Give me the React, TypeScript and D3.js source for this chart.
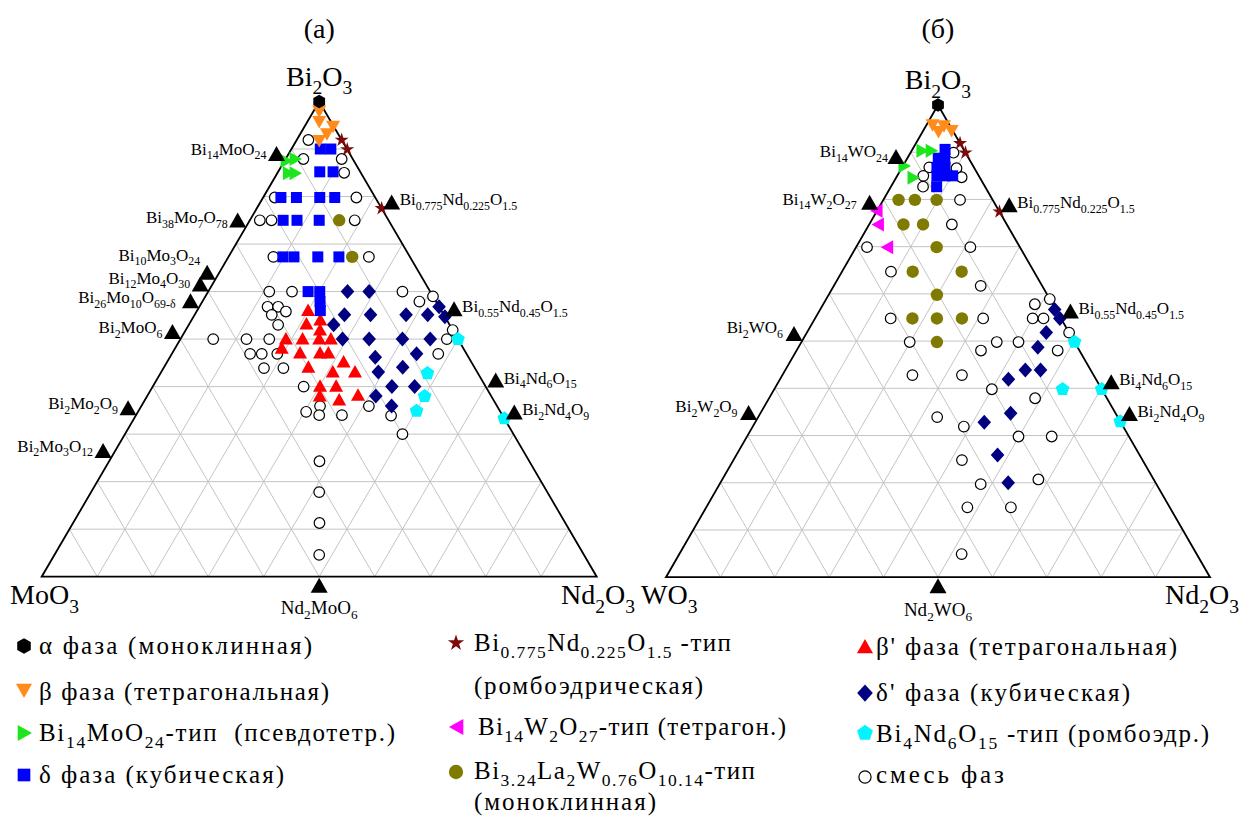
import React from "react";
import * as d3 from "d3";

// Compositions are [Bi2O3 mol.%, Nd2O3 mol.%]; the third oxide is the remainder.
type Comp = [number, number];

// ---------------- Bi2O3 – MoO3 – Nd2O3 ----------------
const moAlpha: Comp[] = [[100, 0]];
const moBeta: Comp[] = [[98, 1], [95.8, 2.1], [94.8, 5.1], [93.2, 4.8], [91.8, 4.1]];
const moRhombo: Comp[] = [[91.9, 8.1], [89.9, 10.1], [77.5, 22.5]];
const moBi14: Comp[] = [[87.5, 0.3], [87.9, 1.7], [84.9, 2.0], [84.9, 3.2]];
const moDelta: Comp[] = [
  [90, 5.2], [90, 7.1], [85.2, 7.5], [85.2, 9.9],
  [79.8, 3.2], [79.8, 6.0], [79.8, 10.2], [79.8, 12.9],
  [75, 6.0], [75, 8.5], [75, 12.5],
  [67.3, 9.8], [67.3, 11.8], [67.3, 16.1], [67.3, 19.9],
  [60, 18.0], [60, 20.1], [57.9, 21.2], [56, 22.2],
];
const moMonoclinic: Comp[] = [[75, 16.1], [67.3, 22.3]];
const moBetaPrime: Comp[] = [
  [56, 20.0], [53.2, 21.1], [54, 23.2], [51.9, 24.2],
  [50, 19.0], [50, 22.0], [50, 25.0], [50, 27.1], [48.1, 19.2],
  [47.1, 23.0], [47.1, 26.6], [47.1, 28.1],
  [44.1, 26.0], [43.1, 30.9], [45.2, 31.8], [43.1, 34.9],
  [40.1, 30.1], [40.1, 33.0], [38, 31.1], [37.2, 35.0], [38.2, 37.9],
];
const moDeltaPrime: Comp[] = [
  [60, 25.1], [60, 29.0], [56.8, 43.2], [54.7, 45.3],
  [53, 26.1], [55.1, 27.0], [55.1, 31.7], [55.1, 38.1], [55.1, 42.0],
  [50, 29.2], [50, 34.0], [50, 40.0], [50, 45.0],
  [46.2, 37.0], [46.9, 44.1],
  [43.1, 39.1], [44.1, 43.0],
  [40, 43.1], [40, 47.2], [38, 41.2], [35.9, 45.1],
];
const moBi4Nd6: Comp[] = [[50, 50], [42.8, 48.1], [38, 50], [34.9, 50.1], [33.3, 66.7]];
const moMixed: Comp[] = [
  [91.9, 2.1], [87.9, 3.2], [87.9, 10.1], [85, 12.0],
  [79.8, 2.1], [79.8, 16.8],
  [75, 1.8], [75, 3.9], [75, 18.9],
  [67.3, 8.1], [67.3, 25.3],
  [60, 11.0], [60, 15.1], [60, 35.0], [59, 41.0], [57.9, 39.1],
  [56.8, 12.3], [56.8, 14.2], [55.8, 16.1], [55.1, 13.9], [53, 16.1],
  [50, 5.9], [50, 11.9], [50, 16.0], [50, 48.0], [51.9, 48.1],
  [46.9, 14.1], [46.9, 16.2], [46.9, 19.0], [46.9, 48.0],
  [43.9, 18.1], [43.9, 21.6],
  [40, 27.2],
  [35.9, 32.2], [34, 33.0], [34.7, 30.3], [34, 37.1], [35.9, 41.0], [33.9, 46.0], [30, 50.0],
  [24.3, 37.9], [17.8, 41.1], [11.3, 44.4], [4.6, 47.7],
];

// ---------------- Bi2O3 – WO3 – Nd2O3 ----------------
const wAlpha: Comp[] = [[100, 0]];
const wBeta: Comp[] = [[95.8, 1.1], [94.4, 2.9], [95.6, 3.3], [94.6, 5.2]];
const wRhombo: Comp[] = [[91.9, 8.1], [89.9, 10.1], [77.4, 22.6]];
const wBi14: Comp[] = [[90.3, 1.9], [90.3, 3.6], [87.1, 0.2], [84.6, 3.1]];
const wDelta: Comp[] = [
  [90.6, 6.0], [88.7, 5.7], [88.7, 6.9], [86.8, 6.4], [86.8, 7.9],
  [85, 7.3], [85, 8.8], [85, 10.2], [82.7, 8.4],
];
const wTetragon: Comp[] = [[77.6, 0], [74.7, 1.7], [69.9, 5.8]];
const wMonoclinic: Comp[] = [
  [79.9, 2.8], [79.9, 5.8], [79.9, 9.8], [74.7, 6.3], [74.7, 9.9], [69.9, 14.8],
  [64.7, 13.0], [64.7, 22.0], [59.8, 19.9], [54.8, 17.9], [54.8, 22.4], [54.8, 27.0], [49.8, 24.9],
];
const wDeltaPrime: Comp[] = [
  [56.7, 43.1], [54.8, 45.0], [51.8, 44.0], [48.7, 44.0], [43.9, 44.1], [43.9, 46.9],
  [41.9, 42.0], [34.7, 46.0], [32.8, 42.1], [25.9, 48.0], [20, 52.9],
];
const wBi4Nd6: Comp[] = [[49.8, 50.2], [39.8, 53.0], [39.8, 60.2], [33, 67]];
const wMixed: Comp[] = [
  [89.9, 7.9], [86.8, 5.0], [85, 4.8], [82.7, 5.9], [86.6, 10.1], [84.7, 12.0],
  [79.9, 14.1], [74.7, 15.2], [69.9, 2.0], [69.9, 21.0], [64.7, 9.0], [61.7, 27.0],
  [57.8, 38.9], [58.9, 41.1], [54.8, 13.9], [54.8, 30.9], [54.8, 40.0], [54.8, 42.0],
  [51.8, 48.2], [49.8, 19.9], [49.8, 35.9], [49.8, 39.9], [48, 33.9], [48, 48.0],
  [42.8, 23.9], [42.8, 33.0], [39.8, 40.0], [37.9, 48.9], [33.9, 32.9], [31.9, 38.8],
  [29.8, 49.9], [29.8, 56.0], [24.8, 42.0], [19.7, 48.0], [20.7, 58.1], [14.8, 48.0],
  [14.8, 56.0], [4.9, 51.9],
];

// Known compounds on the binary edges (Bi2O3 mol.% along the edge)
const moSideCompounds = [
  { name: "Bi{14}MoO{24}", bi: 87.5 },
  { name: "Bi{38}Mo{7}O{78}", bi: 73.5 },
  { name: "Bi{10}Mo{3}O{24}", bi: 62.5 },
  { name: "Bi{12}Mo{4}O{30}", bi: 60 },
  { name: "Bi{26}Mo{10}O{69-δ}", bi: 56.5 },
  { name: "Bi{2}MoO{6}", bi: 50 },
  { name: "Bi{2}Mo{2}O{9}", bi: 34 },
  { name: "Bi{2}Mo{3}O{12}", bi: 25 },
];
const wSideCompounds = [
  { name: "Bi{14}WO{24}", bi: 87.5 },
  { name: "Bi{14}W{2}O{27}", bi: 77.8 },
  { name: "Bi{2}WO{6}", bi: 50 },
  { name: "Bi{2}W{2}O{9}", bi: 33.3 },
];
const ndCompounds = [
  { name: "Bi{0.775}Nd{0.225}O{1.5}", bi: 77.5 },
  { name: "Bi{0.55}Nd{0.45}O{1.5}", bi: 55 },
  { name: "Bi{4}Nd{6}O{15}", bi: 40 },
  { name: "Bi{2}Nd{4}O{9}", bi: 33.3 },
];

// Label nudges (px) for crowded edge labels
const labelNudge: Record<string, [number, number]> = {
  "Bi{10}Mo{3}O{24}": [3, -13],
  "Bi{12}Mo{4}O{30}": [0, -2],
  "Bi{26}Mo{10}O{69-δ}": [-5, 1],
  "Bi{38}Mo{7}O{78}": [0, 2],
  "Bi{14}WO{24}": [2, -1],
  "Bi{14}W{2}O{27}": [-3, 1],
  "Bi{2}WO{6}": [-1, -2],
  "Bi{2}W{2}O{9}": [-1, -2],
};

const FONT = "'Liberation Serif', 'Times New Roman', Times, serif";

type Shape = "hexagon" | "triDown" | "triRight" | "square" | "star" | "triLeft" | "dot" | "triUp" | "diamond" | "pentagon" | "circle";
const PHASE_STYLE: Record<string, { fill: string; stroke?: string; shape: Shape }> = {
  alpha: { fill: "#000000", shape: "hexagon" },
  beta: { fill: "#ff8c1a", shape: "triDown" },
  bi14: { fill: "#1ee61e", shape: "triRight" },
  delta: { fill: "#0000ff", shape: "square" },
  rhombo: { fill: "#7d0a0a", shape: "star" },
  tetragon: { fill: "#ff00ff", shape: "triLeft" },
  mono: { fill: "#7f7a00", shape: "dot" },
  betaP: { fill: "#ff0000", shape: "triUp" },
  deltaP: { fill: "#000080", shape: "diamond" },
  bi4nd6: { fill: "#00f5ff", shape: "pentagon" },
  mixed: { fill: "#ffffff", stroke: "#000000", shape: "circle" },
};

const legendItems = [
  { phase: "alpha", lines: ["α фаза (моноклинная)"] },
  { phase: "beta", lines: ["β фаза (тетрагональная)"] },
  { phase: "bi14", lines: ["Bi{14}MoO{24}-тип  (псевдотетр.)"] },
  { phase: "delta", lines: ["δ фаза (кубическая)"] },
  { phase: "rhombo", lines: ["Bi{0.775}Nd{0.225}O{1.5} -тип", "(ромбоэдрическая)"] },
  { phase: "tetragon", lines: ["Bi{14}W{2}O{27}-тип (тетрагон.)"] },
  { phase: "mono", lines: ["Bi{3.24}La{2}W{0.76}O{10.14}-тип", "(моноклинная)"] },
  { phase: "betaP", lines: ["β' фаза (тетрагональная)"] },
  { phase: "deltaP", lines: ["δ' фаза (кубическая)"] },
  { phase: "bi4nd6", lines: ["Bi{4}Nd{6}O{15} -тип (ромбоэдр.)"] },
  { phase: "mixed", lines: ["смесь фаз"] },
];
const legendLayout = [
  { sx: 24, sy: 646, tx: 39, lines: [{ y: 654, w: 273 }] },
  { sx: 24, sy: 690, tx: 39, lines: [{ y: 700, w: 290 }] },
  { sx: 24, sy: 733, tx: 39, lines: [{ y: 741, w: 356 }] },
  { sx: 24, sy: 775, tx: 39, lines: [{ y: 783, w: 245 }] },
  { sx: 456, sy: 643, tx: 474, lines: [{ y: 651, w: 257 }, { y: 694, w: 229 }] },
  { sx: 457, sy: 727, tx: 478, lines: [{ y: 735, w: 308 }] },
  { sx: 456, sy: 772, tx: 474, lines: [{ y: 779, w: 281 }, { y: 810, w: 182 }] },
  { sx: 865, sy: 647, tx: 876, lines: [{ y: 655, w: 301 }] },
  { sx: 865, sy: 693, tx: 876, lines: [{ y: 701, w: 254 }] },
  { sx: 865, sy: 733, tx: 876, lines: [{ y: 742, w: 333 }] },
  { sx: 865, sy: 777, tx: 876, lines: [{ y: 783, w: 128 }] },
];

function polygon(n: number, r: number, rot: number) {
  const pts = d3.range(n).map((i) => {
    const a = ((rot + (360 / n) * i) * Math.PI) / 180;
    return [r * Math.cos(a), r * Math.sin(a)];
  });
  return "M" + pts.map((p) => p.join(",")).join("L") + "Z";
}

function shapePath(shape: Shape, s = 1): string {
  switch (shape) {
    case "hexagon": return polygon(6, 6.8 * s, -90);
    case "pentagon": return polygon(5, 7.2 * s, -90);
    case "triUp": return `M0,${-7 * s}L${7 * s},${5.5 * s}L${-7 * s},${5.5 * s}Z`;
    case "triDown": return `M0,${7 * s}L${7 * s},${-5.5 * s}L${-7 * s},${-5.5 * s}Z`;
    case "triRight": return `M${7 * s},0L${-5.5 * s},${-7 * s}L${-5.5 * s},${7 * s}Z`;
    case "triLeft": return `M${-7 * s},0L${5.5 * s},${-7 * s}L${5.5 * s},${7 * s}Z`;
    case "square": return d3.symbol(d3.symbolSquare, (11 * s) ** 2)() as string;
    case "diamond": return `M0,${-7.5 * s}L${6.8 * s},0L0,${7.5 * s}L${-6.8 * s},0Z`;
    case "star": return d3.symbol(d3.symbolStar, 62 * s * s)() as string;
    case "dot": return d3.symbol(d3.symbolCircle, Math.PI * (6.2 * s) ** 2)() as string;
    case "circle": return d3.symbol(d3.symbolCircle, Math.PI * (5.3 * s) ** 2)() as string;
  }
}

function Marker({ phase, x, y, s = 1 }: { phase: string; x: number; y: number; s?: number }) {
  const st = PHASE_STYLE[phase];
  return (
    <path
      d={shapePath(st.shape, s)}
      transform={`translate(${x},${y})`}
      fill={st.fill}
      stroke={st.stroke ?? "none"}
      strokeWidth={st.stroke ? 1.2 : 0}
    />
  );
}

function Formula({
  x, y, text, size, anchor = "start", width, sub = 0.7, shift = 0.27,
}: { x: number; y: number; text: string; size: number; anchor?: string; width?: number; sub?: number; shift?: number }) {
  const parts = text.split(/(\{[^}]*\})/).filter((p) => p.length > 0);
  let down = false;
  const spans = parts.map((p, i) => {
    if (p[0] === "{") {
      const el = (
        <tspan key={i} fontSize={size * sub} dy={down ? 0 : size * shift}>
          {p.slice(1, -1)}
        </tspan>
      );
      down = true;
      return el;
    }
    const el = (
      <tspan key={i} dy={down ? -size * shift : 0}>
        {p}
      </tspan>
    );
    down = false;
    return el;
  });
  const extra: any = width ? { textLength: width, lengthAdjust: "spacing" } : {};
  return (
    <text x={x} y={y} fontSize={size} textAnchor={anchor as any} fontFamily={FONT} fill="#000" style={{ whiteSpace: "pre" }} {...extra}>
      {spans}
    </text>
  );
}

const edgeMarker = "M0,-8L8.5,7L-8.5,7Z";

interface Panel {
  tri: { left: number; right: number; bottom: number; apex: number };
  title: string;
  leftOxide: string;
  leftOxideX: number;
  rightOxideX: number;
  series: [string, Comp[]][];
  side: { name: string; bi: number }[];
  bottomCompound: string;
  bottomLabelY: number;
}

function Ternary({ p }: { p: Panel }) {
  const { tri } = p;
  const x = d3.scaleLinear().domain([0, 100]).range([tri.left, tri.right]);
  const y = d3.scaleLinear().domain([0, 100]).range([tri.bottom, tri.apex]);
  const pos = (bi: number, nd: number): [number, number] => [x(nd + bi / 2), y(bi)];
  const ticks = d3.range(10, 100, 10);
  const line = (a: [number, number], b: [number, number]) => `M${a[0]},${a[1]}L${b[0]},${b[1]}`;

  const grid: string[] = [];
  ticks.forEach((k) => {
    grid.push(line(pos(k, 0), pos(k, 100 - k)));
    grid.push(line(pos(0, k), pos(100 - k, k)));
    grid.push(line(pos(0, 100 - k), pos(100 - k, 0)));
  });
  const A = pos(100, 0), B = pos(0, 0), C = pos(0, 100);
  const bottomPt = pos(0, 50);

  return (
    <g>
      <text x={A[0]} y={38} fontSize={28} textAnchor="middle" fontFamily={FONT}>{p.title}</text>
      <path d={grid.join("")} stroke="#c4c4c4" strokeWidth={1} fill="none" />
      <path d={`M${A[0]},${A[1]}L${B[0]},${B[1]}L${C[0]},${C[1]}Z`} stroke="#000" strokeWidth={1.8} fill="none" strokeLinejoin="miter" />

      {p.series.map(([phase, pts]) =>
        pts.map((c, i) => {
          const [px, py] = pos(c[0], c[1]);
          return <Marker key={phase + i} phase={phase} x={px} y={py} />;
        })
      )}

      {p.side.map((c) => {
        const [ex, ey] = pos(c.bi, 0);
        const mx = ex - 8, my = ey - 7;
        const nd = labelNudge[c.name] ?? [0, 0];
        return (
          <g key={c.name}>
            <path d={edgeMarker} transform={`translate(${mx},${my})`} fill="#000" />
            <Formula x={mx - 10 + nd[0]} y={my + 1 + nd[1]} text={c.name} size={17} anchor="end" />
          </g>
        );
      })}
      {ndCompounds.map((c) => {
        const [ex, ey] = pos(c.bi, 100 - c.bi);
        const mx = ex + 10, my = ey - 6;
        return (
          <g key={c.name}>
            <path d={edgeMarker} transform={`translate(${mx},${my})`} fill="#000" />
            <Formula x={mx + 8} y={my + 3} text={c.name} size={17} anchor="start" />
          </g>
        );
      })}
      <path d={edgeMarker} transform={`translate(${bottomPt[0]},${bottomPt[1] + 9})`} fill="#000" />
      <Formula x={bottomPt[0]} y={p.bottomLabelY} text={p.bottomCompound} size={19} anchor="middle" />

      <Formula x={A[0]} y={tri.apex - 16} text="Bi{2}O{3}" size={28} anchor="middle" shift={0.32} />
      <Formula x={p.leftOxideX} y={604} text={p.leftOxide} size={28} shift={0.32} />
      <Formula x={p.rightOxideX} y={604} text="Nd{2}O{3}" size={28} shift={0.32} />
    </g>
  );
}

const panelA: Panel = {
  tri: { left: 41.7, right: 596.7, bottom: 576.7, apex: 101.5 },
  title: "(а)",
  leftOxide: "MoO{3}",
  leftOxideX: 10,
  rightOxideX: 561,
  series: [
    ["mixed", moMixed],
    ["mono", moMonoclinic],
    ["bi4nd6", moBi4Nd6],
    ["deltaP", moDeltaPrime],
    ["betaP", moBetaPrime],
    ["delta", moDelta],
    ["bi14", moBi14],
    ["beta", moBeta],
    ["rhombo", moRhombo],
    ["alpha", moAlpha],
  ],
  side: moSideCompounds,
  bottomCompound: "Nd{2}MoO{6}",
  bottomLabelY: 614,
};

const panelB: Panel = {
  tri: { left: 666, right: 1210, bottom: 577.2, apex: 105 },
  title: "(б)",
  leftOxide: "WO{3}",
  leftOxideX: 641,
  rightOxideX: 1165,
  series: [
    ["mixed", wMixed],
    ["mono", wMonoclinic],
    ["bi4nd6", wBi4Nd6],
    ["deltaP", wDeltaPrime],
    ["delta", wDelta],
    ["bi14", wBi14],
    ["tetragon", wTetragon],
    ["beta", wBeta],
    ["rhombo", wRhombo],
    ["alpha", wAlpha],
  ],
  side: wSideCompounds,
  bottomCompound: "Nd{2}WO{6}",
  bottomLabelY: 616,
};

export default function App() {
  return (
    <svg
      width={1239}
      height={816}
      viewBox="0 0 1239 816"
      style={{ position: "absolute", left: 0, top: 0, background: "#fff", display: "block" }}
    >
      <rect width={1239} height={816} fill="#fff" />
      <Ternary p={panelA} />
      <Ternary p={panelB} />
      {legendItems.map((item, i) => {
        const lay = legendLayout[i];
        return (
          <g key={item.phase}>
            <Marker phase={item.phase} x={lay.sx} y={lay.sy} s={1.15} />
            {item.lines.map((t, j) => (
              <Formula key={j} x={lay.tx} y={lay.lines[j].y} text={t} size={25} width={lay.lines[j].w} />
            ))}
          </g>
        );
      })}
    </svg>
  );
}
